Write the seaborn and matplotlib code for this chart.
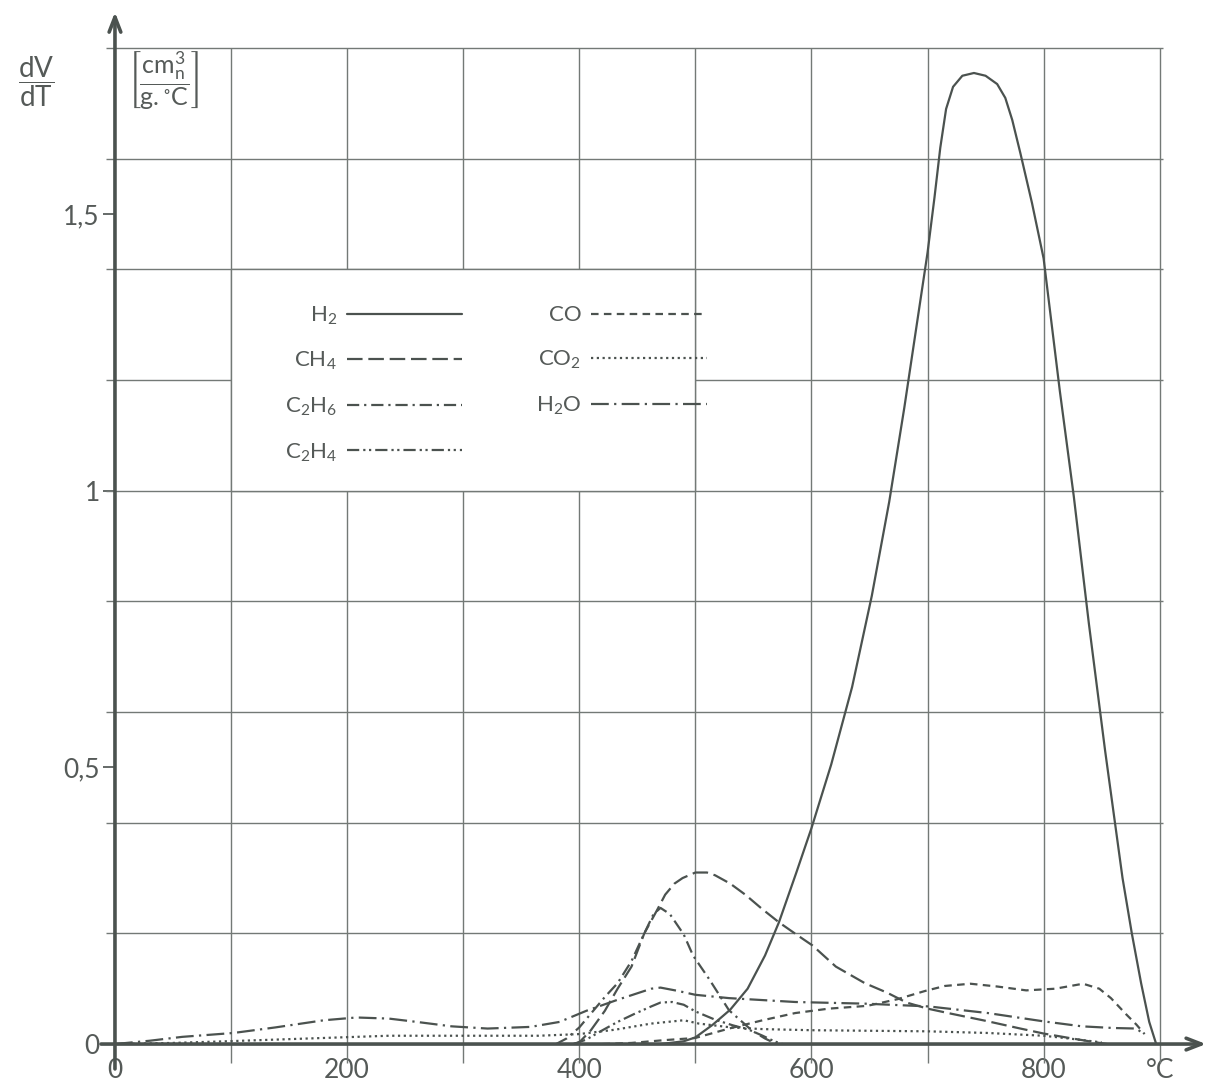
import matplotlib
matplotlib.use("Agg")
import matplotlib.pyplot as plt
from matplotlib.patches import Rectangle
import numpy as np
import pandas as pd
import seaborn as sns

# Gas release rate dV/dT [cm3n / (g.°C)] versus temperature [°C]
H2_T = [470, 490, 500, 515, 530, 545, 560, 572, 587, 600, 617, 635, 652, 667, 680,
        690, 700, 706, 711, 716, 722, 730, 740, 750, 760, 767, 773, 780, 790, 800,
        807, 814, 826, 839, 853, 868, 876, 884, 891, 897]
H2_V = [0.0, 0.005, 0.012, 0.035, 0.062, 0.10, 0.16, 0.22, 0.31, 0.39, 0.505, 0.645,
        0.81, 0.98, 1.15, 1.29, 1.43, 1.53, 1.62, 1.69, 1.73, 1.75, 1.755, 1.75,
        1.735, 1.71, 1.67, 1.61, 1.52, 1.42, 1.30, 1.18, 0.99, 0.76, 0.53, 0.30,
        0.20, 0.11, 0.04, 0.0]

CH4_T = [395, 400, 410, 422, 433, 445, 456, 467, 474, 482, 489, 500, 510, 517, 530,
         543, 557, 572, 587, 601, 621, 646, 665, 682, 700, 720, 750, 780, 800, 822,
         845, 855]
CH4_V = [0.0, 0.003, 0.025, 0.06, 0.10, 0.14, 0.20, 0.242, 0.27, 0.29, 0.30, 0.31,
         0.31, 0.305, 0.29, 0.27, 0.245, 0.22, 0.198, 0.178, 0.14, 0.11, 0.093,
         0.075, 0.064, 0.055, 0.042, 0.028, 0.019, 0.011, 0.003, 0.0]

C2H6_T = [380, 389, 400, 410, 422, 433, 445, 456, 464, 470, 478, 490, 498, 512, 529,
          549, 560, 570]
C2H6_V = [0.0, 0.01, 0.03, 0.055, 0.085, 0.11, 0.15, 0.20, 0.235, 0.246, 0.235,
          0.198, 0.16, 0.117, 0.061, 0.024, 0.01, 0.0]

C2H4_T = [395, 406, 420, 433, 448, 462, 470, 480, 490, 500, 517, 532, 546, 558, 568,
          575]
C2H4_V = [0.0, 0.008, 0.025, 0.04, 0.055, 0.068, 0.075, 0.076, 0.071, 0.059, 0.044,
          0.034, 0.026, 0.015, 0.005, 0.0]

CO_T = [420, 445, 473, 500, 529, 558, 586, 615, 648, 674, 698, 715, 737, 760, 785,
        810, 834, 848, 858, 871, 880, 887]
CO_V = [0.0, 0.002, 0.007, 0.011, 0.028, 0.043, 0.056, 0.064, 0.069, 0.081, 0.096,
        0.105, 0.109, 0.104, 0.097, 0.10, 0.109, 0.10, 0.083, 0.054, 0.035, 0.018]

CO2_T = [0, 50, 96, 152, 236, 300, 365, 400, 431, 462, 490, 503, 531, 558, 600, 700,
         752, 800, 822, 850]
CO2_V = [0.0, 0.002, 0.005, 0.009, 0.015, 0.015, 0.015, 0.018, 0.026, 0.037, 0.043,
         0.037, 0.03, 0.027, 0.025, 0.023, 0.02, 0.015, 0.01, 0.003]

H2O_T = [0, 30, 58, 102, 138, 180, 208, 236, 260, 290, 321, 358, 383, 406, 433, 462,
         470, 485, 500, 529, 586, 646, 701, 752, 800, 833, 860, 880, 885]
H2O_V = [0.0, 0.006, 0.013, 0.02, 0.03, 0.043, 0.048, 0.046, 0.04, 0.032, 0.028,
         0.031, 0.04, 0.06, 0.08, 0.10, 0.102, 0.096, 0.089, 0.083, 0.076, 0.073,
         0.068, 0.056, 0.041, 0.032, 0.029, 0.028, 0.02]

GASES = ["H2", "CH4", "C2H6", "C2H4", "CO", "CO2", "H2O"]
LABELS = {
    "H2": r"$\mathregular{H_2}$",
    "CH4": r"$\mathregular{CH_4}$",
    "C2H6": r"$\mathregular{C_2H_6}$",
    "C2H4": r"$\mathregular{C_2H_4}$",
    "CO": "CO",
    "CO2": r"$\mathregular{CO_2}$",
    "H2O": r"$\mathregular{H_2O}$",
}

X_TICKS = [0, 200, 400, 600, 800, 900]
X_TICK_LABELS = ["0", "200", "400", "600", "800", "°C"]
Y_TICKS = [0, 0.5, 1, 1.5]
Y_TICK_LABELS = ["0", "0,5", "1", "1,5"]

series = [("H2", H2_T, H2_V), ("CH4", CH4_T, CH4_V), ("C2H6", C2H6_T, C2H6_V),
          ("C2H4", C2H4_T, C2H4_V), ("CO", CO_T, CO_V), ("CO2", CO2_T, CO2_V),
          ("H2O", H2O_T, H2O_V)]
df = pd.concat([pd.DataFrame({"T": t, "rate": v, "gas": g}) for g, t, v in series],
               ignore_index=True)

INK = "#4b524f"
GRID = "#737976"
TEXT = "#555a58"

# line styles for each gas (on/off lengths, scaled by line width)
DASHES = {
    "H2": "",
    "CH4": (7, 2.6),
    "C2H6": (5.5, 2.2, 1, 2.2),
    "C2H4": (5.5, 1.8, 1, 1.6, 1, 1.8),
    "CO": (3.4, 2.4),
    "CO2": (1.0, 1.6),
    "H2O": (8, 2.4, 1, 2.4),
}

sns.set_theme(style="white")
plt.rcParams["font.family"] = ["Lato", "DejaVu Sans"]
plt.rcParams["mathtext.fontset"] = "dejavusans"

fig = plt.figure(figsize=(12.14, 10.88), dpi=100)
ax = fig.add_axes([0.0947, 0.0404, 0.8988, 0.951])
ax.set_xlim(0, 940)
ax.set_ylim(0, 1.87)

# hand-ruled grid
X_GRID = np.arange(100, 1000, 100)
Y_GRID = np.round(np.arange(0.2, 1.81, 0.2), 1)
ax.hlines(Y_GRID, -8, 903, colors=GRID, lw=1.0, zorder=1, clip_on=False)
ax.vlines(X_GRID, -0.035, 1.8, colors=GRID, lw=1.0, zorder=1, clip_on=False)

# blank panel holding the key
ax.add_patch(Rectangle((100, 1.0), 400, 0.4, facecolor="white", edgecolor=GRID,
                       lw=1.0, zorder=1.5))

sns.lineplot(data=df, x="T", y="rate", hue="gas", style="gas",
             hue_order=GASES, style_order=GASES,
             palette={g: INK for g in GASES}, dashes=DASHES,
             sort=False, estimator=None, lw=1.6, ax=ax, zorder=3)

old = ax.get_legend()
handles = list(old.legend_handles)
old.remove()
for h in handles:
    h.set_linewidth(1.6)
    h.set_color(INK)
leg = ax.legend(handles, [LABELS[g] for g in GASES], ncol=2, markerfirst=False,
                frameon=False, loc="center", bbox_to_anchor=(328, 1.193),
                bbox_transform=ax.transData, fontsize=16, handlelength=5.2,
                handletextpad=0.45, columnspacing=3.3, labelspacing=1.05,
                borderpad=0)
for t in leg.get_texts():
    t.set_color(TEXT)

# axes drawn as arrows
for s in ax.spines.values():
    s.set_visible(False)
arrow = dict(arrowstyle="->,head_length=0.9,head_width=0.35", color=INK, lw=2.6,
             shrinkA=0, shrinkB=0)
ax.annotate("", xy=(0, 1.865), xytext=(0, -0.045), arrowprops=arrow,
            annotation_clip=False, zorder=4)
ax.annotate("", xy=(940, 0), xytext=(-12, 0), arrowprops=arrow,
            annotation_clip=False, zorder=4)

ax.set_xticks(X_TICKS, X_TICK_LABELS)
ax.set_yticks(Y_TICKS, Y_TICK_LABELS)
ax.tick_params(axis="x", bottom=False, length=0, pad=10, labelsize=19,
               labelcolor=TEXT)
ax.tick_params(axis="y", left=True, length=9, width=1.2, color=INK, pad=2,
               labelsize=19, labelcolor=TEXT, direction="out")
ax.set_xlabel("")
ax.set_ylabel("")

fig.text(0.0300, 0.925, r"$\dfrac{\mathregular{dV}}{\mathregular{dT}}$",
         fontsize=20, color=TEXT, ha="center", va="center")
ax.text(42, 1.742, r"$\left[\dfrac{\mathregular{cm^3_n}}{\mathregular{g.^{\circ}C}}\right]$",
        fontsize=18, color=TEXT, ha="center", va="center", zorder=4)

fig.savefig("out.png", dpi=100, facecolor="white")
